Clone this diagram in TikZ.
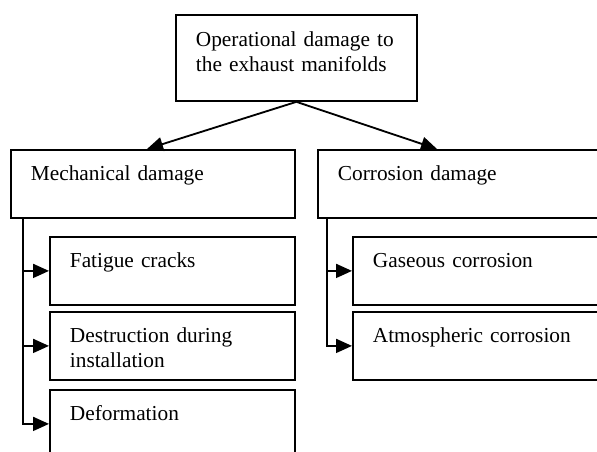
\documentclass[tikz,border=0pt]{standalone}
\usepackage{fontspec}
\setmainfont{Liberation Serif}
\usetikzlibrary{arrows.meta,calc}
\begin{document}
\begin{tikzpicture}[x=0.6pt,y=-0.6pt,
  box/.style={draw,line width=1.1pt,anchor=north west,align=left,
    inner xsep=12pt,inner ysep=0pt,text height=18.6pt,text depth=22.2pt,
    font=\fontsize{12.8}{15}\selectfont},
  arr/.style={line width=1.1pt,-{Triangle[length=9.6pt,width=8.4pt]}}]
\clip (0,0) rectangle (597,452);
\node[box,text width=120.6pt,text height=19.2pt,text depth=32.4pt] (top) at (175,14) {Operational damage to\\the exhaust manifolds};
\node[box,text width=146.4pt] (mech) at (10,149) {Mechanical damage};
\node[box,text width=151.8pt] (corr) at (317,149) {Corrosion damage};
\node[box,text width=123pt] (fat) at (49,236) {Fatigue cracks};
\node[box,text width=123pt] (des) at (49,311) {Destruction during\\installation};
\node[box,text width=123pt] (def) at (49,389) {Deformation};
\node[box,text width=130.8pt] (gas) at (352,236) {Gaseous corrosion};
\node[box,text width=130.8pt] (atm) at (352,311) {Atmospheric corrosion};
\draw[arr] (top.south) -- ($(mech.north west)+(137,0)$);
\draw[arr] (top.south) -- ($(corr.north west)+(120,0)$);
\draw[arr] ($(mech.south west)+(13,0)$) |- (fat.west);
\draw[arr] ($(mech.south west)+(13,0)$) |- (des.west);
\draw[arr] ($(mech.south west)+(13,0)$) |- (def.west);
\draw[arr] ($(corr.south west)+(10,0)$) |- (gas.west);
\draw[arr] ($(corr.south west)+(10,0)$) |- (atm.west);
\end{tikzpicture}
\end{document}
